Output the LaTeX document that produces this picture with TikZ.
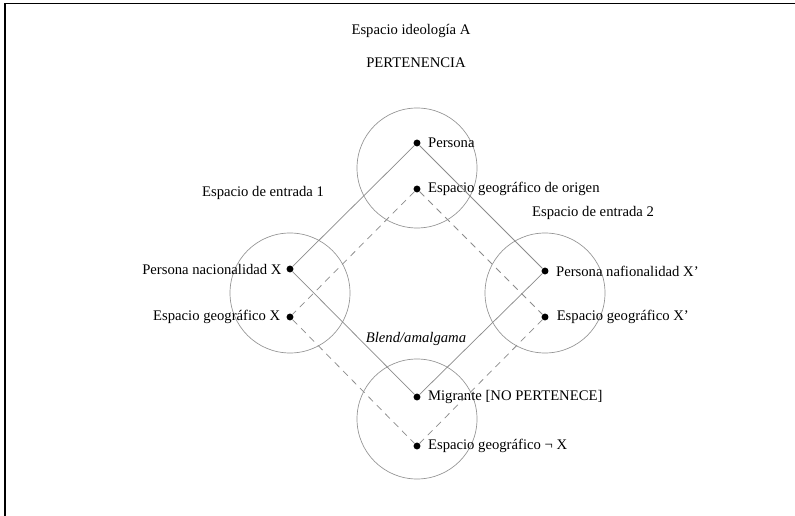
\documentclass[tikz,border=0pt]{standalone}
\usepackage{fontspec}
\setmainfont{Liberation Serif}
\usetikzlibrary{positioning}

\begin{document}
\begin{tikzpicture}[x=0.75pt,y=-0.75pt,font=\fontsize{11}{13}\selectfont,
  dot/.style={circle,fill=black,inner sep=0pt,minimum size=5.2pt},
  space/.style={circle,draw=gray!85,line width=0.5pt,inner sep=0pt,minimum size=90pt},
  link/.style={gray!90,line width=0.55pt},
  geo/.style={link,dashed,dash pattern=on 5pt off 4pt}]
\useasboundingbox (0,0) rectangle (795,516);
\draw[line width=1.2pt] (5,516) -- (5,3.5) -- (795,3.5);
% espacios mentales
\node[space] at (417,168) (SA) {};
\node[space] at (290,293) (S1) {};
\node[space] at (545,293) (S2) {};
\node[space] at (417,419) (SB) {};
% titulos
\node at (411,31) (TA) {Espacio ideología A};
\node at (416,63) (TP) {PERTENENCIA};
\node at (263,193) (TE1) {Espacio de entrada 1};
\node at (593,213) (TE2) {Espacio de entrada 2};
\node at (416,339) (TB) {\textit{Blend/amalgama}};
% elementos
\node[dot] at (417,143) (A1) {};
\node[dot] at (417,189) (A2) {};
\node[dot] at (290,269) (B1) {};
\node[dot] at (290,317) (B2) {};
\node[dot] at (545,271) (C1) {};
\node[dot] at (545,317) (C2) {};
\node[dot] at (417,397) (D1) {};
\node[dot] at (417,446) (D2) {};
\node[right=2pt of A1] (lA1) {Persona};
\node[right=2pt of A2] (lA2) {Espacio geográfico de origen};
\node[left=0pt of B1] (lB1) {Persona nacionalidad X};
\node[left=1pt of B2] (lB2) {Espacio geográfico X};
\node[right=2pt of C1] (lC1) {Persona nafionalidad X’};
\node[right=2.5pt of C2] (lC2) {Espacio geográfico X’};
\node[right=2pt of D1] (lD1) {Migrante [NO PERTENECE]};
\node[right=2pt of D2] (lD2) {Espacio geográfico ¬ X};
% conexiones
\draw[link] (A1) -- (B1);
\draw[link] (A1) -- (C1);
\draw[link] (B1) -- (D1);
\draw[link] (C1) -- (D1);
\draw[geo] (A2) -- (B2);
\draw[geo] (A2) -- (C2);
\draw[geo] (B2) -- (D2);
\draw[geo] (C2) -- (D2);
\end{tikzpicture}
\end{document}
